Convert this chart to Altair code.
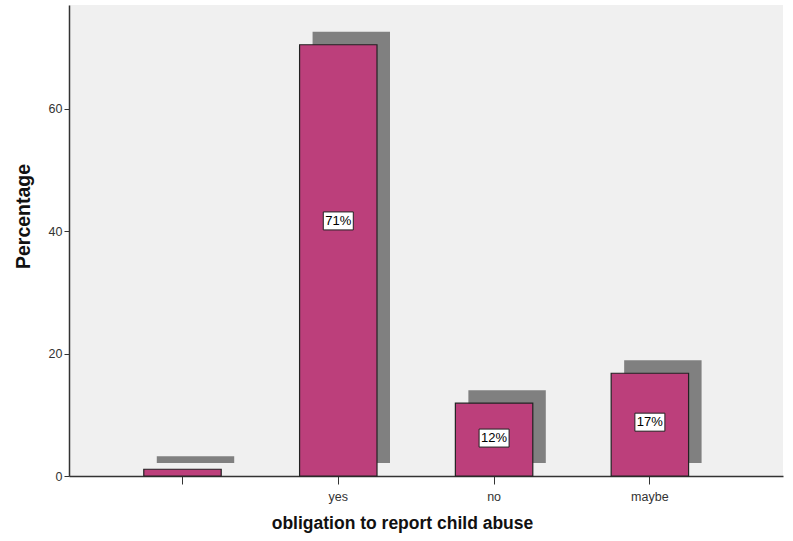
import altair as alt
import pandas as pd

categories = ["", "yes", "no", "maybe"]
percentages = [1.1, 70.5, 11.9, 16.8]
labels = ["", "71%", "12%", "17%"]
label_pos = [None, 41.7, 6.2, 8.8]

df = pd.DataFrame({"cat": categories, "pct": percentages, "label": labels, "lpos": label_pos})

xscale = alt.Scale(domain=categories, paddingInner=0.503, paddingOuter=0.543, align=0.442)
yscale = alt.Scale(domain=[0, 77], nice=False)

x_enc = alt.X("cat:N", scale=xscale, sort=categories,
              axis=alt.Axis(title="obligation to report child abuse", labelAngle=0,
                            labelFont="Liberation Sans", labelFontSize=12.5, labelColor="#333333",
                            titleFont="Liberation Sans", titleFontSize=17.5, titleFontWeight="bold",
                            titleColor="#111111", titlePadding=12, labelPadding=6, titleX=333,
                            tickSize=8, tickColor="#333333", domainColor="#333333",
                            domainWidth=1.5, labelExpr="datum.value"))
y_enc = alt.Y("pct:Q", scale=yscale,
              axis=alt.Axis(title="Percentage", values=[0, 20, 40, 60], grid=False,
                            labelFont="Liberation Sans", labelFontSize=12.5, labelColor="#333333",
                            titleFont="Liberation Sans", titleFontSize=19.5, titleFontWeight="bold",
                            titleColor="#111111", titleX=-36, titleY=211, tickSize=5,
                            tickColor="#333333", domainColor="#333333", domainWidth=1.5))

base = alt.Chart(df)

shadow = base.mark_bar(color="#808080", xOffset=13, x2Offset=13, yOffset=-13, y2Offset=-13).encode(
    x=x_enc, y=y_enc, y2=alt.datum(0)
)

bars = base.mark_bar(color="#BC3F7B", stroke="#222222", strokeWidth=1.2).encode(
    x=alt.X("cat:N", scale=xscale, sort=categories), y=alt.Y("pct:Q", scale=yscale), y2=alt.datum(0)
)

lab_df = df[df["label"] != ""]
boxes = alt.Chart(lab_df).mark_point(
    shape="M-1,-0.6L1,-0.6L1,0.6L-1,0.6Z", filled=True, fill="white", stroke="#222222",
    strokeWidth=1, size=900, opacity=1
).encode(x=alt.X("cat:N", scale=xscale, sort=categories), y=alt.Y("lpos:Q", scale=yscale))

texts = alt.Chart(lab_df).mark_text(font="Liberation Sans", fontSize=13, color="black").encode(
    x=alt.X("cat:N", scale=xscale, sort=categories), y=alt.Y("lpos:Q", scale=yscale), text="label:N"
)

chart = alt.layer(shadow, bars, boxes, texts).properties(
    width=714, height=471,
    autosize=alt.AutoSizeParams(type="none"),
    padding={"left": 69, "top": 5, "right": 10, "bottom": 65},
    background="white",
).configure_view(fill="#F0F0F0", stroke=None)

chart.save("out.html", embed_options={"renderer": "svg", "actions": False})
